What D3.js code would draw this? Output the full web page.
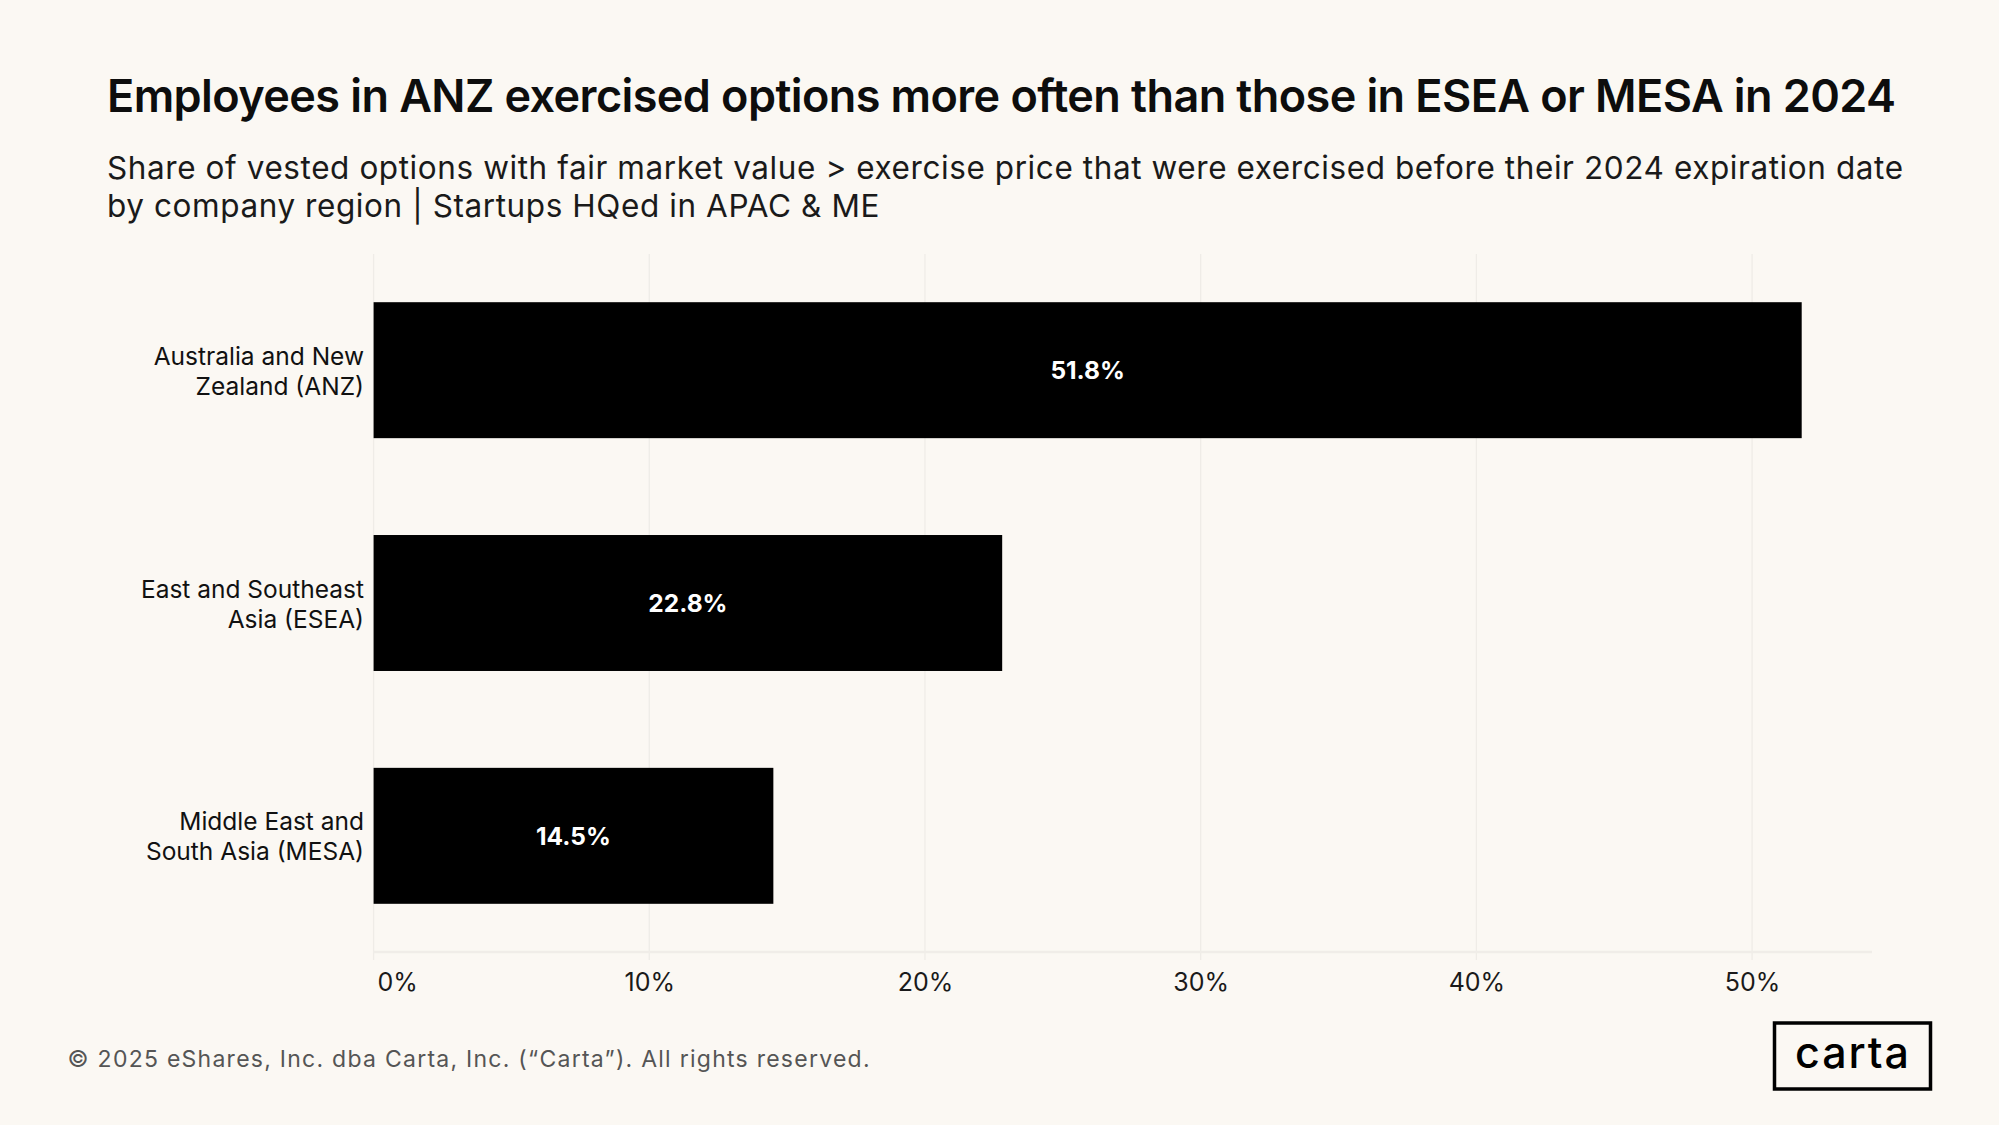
<!DOCTYPE html>
<html><head><meta charset="utf-8">
<script src="https://cdn.jsdelivr.net/npm/d3@7"></script>
<style>
html,body{margin:0;padding:0;background:#fbf8f3;}
svg{display:block;font-family:Inter,"Noto Sans",sans-serif;}
</style></head>
<body>
<svg id="chart" width="1999" height="1125"></svg>
<script>
const categories = [
  ["Australia and New","Zealand (ANZ)"],
  ["East and Southeast","Asia (ESEA)"],
  ["Middle East and","South Asia (MESA)"]
];
const values = [0.518, 0.228, 0.145];
const valueLabels = ["51.8%","22.8%","14.5%"];
const xTicks = [0,0.1,0.2,0.3,0.4,0.5];
const xTickLabels = ["0%","10%","20%","30%","40%","50%"];
const title = "Employees in ANZ exercised options more often than those in ESEA or MESA in 2024";
const subtitle = ["Share of vested options with fair market value > exercise price that were exercised before their 2024 expiration date","by company region | Startups HQed in APAC & ME"];
const footer = "© 2025 eShares, Inc. dba Carta, Inc. (“Carta”). All rights reserved.";

(function(){
const svg = d3.select("#chart");
svg.append("rect").attr("width",1999).attr("height",1125).attr("fill","#fbf8f3");

const pL=373.6, pR=1872, pT=254, pB=952;
const x = d3.scaleLinear().domain([0,0.5435]).range([pL,pR]);
const y = d3.scaleBand().domain(d3.range(categories.length)).range([pT,pB]).paddingInner(0.416).paddingOuter(0.207);

function fitText(sel, target){
  const w = sel.node().getComputedTextLength();
  const n = sel.text().length;
  sel.attr("letter-spacing", ((target - w)/(n-1)).toFixed(3));
}
const t = svg.append("text").attr("x",107).attr("y",111.7).attr("font-size",45).attr("font-weight",600).attr("fill","#0d0d0d").text(title);
fitText(t, 1789);
const s1 = svg.append("text").attr("x",107).attr("y",179.3).attr("font-size",31.5).attr("font-weight",400).attr("fill","#1a1a1a").text(subtitle[0]);
fitText(s1, 1796);
const s2 = svg.append("text").attr("x",107).attr("y",216.8).attr("font-size",31.5).attr("font-weight",400).attr("fill","#1a1a1a").text(subtitle[1]);
s2.attr("letter-spacing", s1.attr("letter-spacing"));

const g = svg.append("g");
g.selectAll("line.grid").data(xTicks).join("line")
  .attr("x1",d=>x(d)).attr("x2",d=>x(d)).attr("y1",pT).attr("y2",pB+8)
  .attr("stroke","#efece7").attr("stroke-width",1.3);
g.append("line").attr("x1",pL).attr("x2",pR).attr("y1",pB).attr("y2",pB)
  .attr("stroke","#f0ede8").attr("stroke-width",2.5);

const xAxis = d3.axisBottom(x).tickValues(xTicks).tickFormat((d,i)=>xTickLabels[i]).tickSize(0).tickPadding(0);
const ax = svg.append("g").attr("transform",`translate(0,${pB})`).call(xAxis);
ax.select(".domain").remove();
ax.selectAll("text").attr("font-size",25).attr("font-family","Inter, sans-serif").attr("fill","#1a1a1a")
  .attr("dy",null).attr("y",38.7)
  .attr("text-anchor",(d,i)=>i===0?"start":"middle")
  .attr("x",(d,i)=>i===0?3.5:0);

svg.selectAll("rect.bar").data(values).join("rect").attr("class","bar")
  .attr("x",x(0)).attr("y",(d,i)=>y(i)).attr("width",d=>x(d)-x(0)).attr("height",y.bandwidth())
  .attr("fill","#000");

svg.selectAll("text.val").data(values).join("text").attr("class","val")
  .attr("x",d=>(x(0)+x(d))/2).attr("y",(d,i)=>y(i)+y.bandwidth()/2+9)
  .attr("text-anchor","middle").attr("font-size",24.5).attr("font-weight",700).attr("fill","#fff")
  .text((d,i)=>valueLabels[i]);

const cl = svg.selectAll("text.cat").data(categories).join("text").attr("class","cat")
  .attr("text-anchor","end").attr("font-size",24.5).attr("fill","#111");
cl.selectAll("tspan").data((d,i)=>d.map((s,j)=>({s,j,i}))).join("tspan")
  .attr("x",364).attr("y",d=>y(d.i)+y.bandwidth()/2-5.5+d.j*30).text(d=>d.s);

const ft = svg.append("text").attr("x",67.6).attr("y",1067).attr("font-size",23).attr("fill","#555").text(footer);
fitText(ft, 802);

svg.append("rect").attr("x",1774.5).attr("y",1023).attr("width",156).attr("height",66)
  .attr("fill","none").attr("stroke","#000").attr("stroke-width",3.5);
const lg = svg.append("text").attr("x",1795).attr("y",1068).attr("font-size",43).attr("font-weight",500).attr("fill","#000").text("carta");
fitText(lg, 114);
})();
</script>
</body></html>
